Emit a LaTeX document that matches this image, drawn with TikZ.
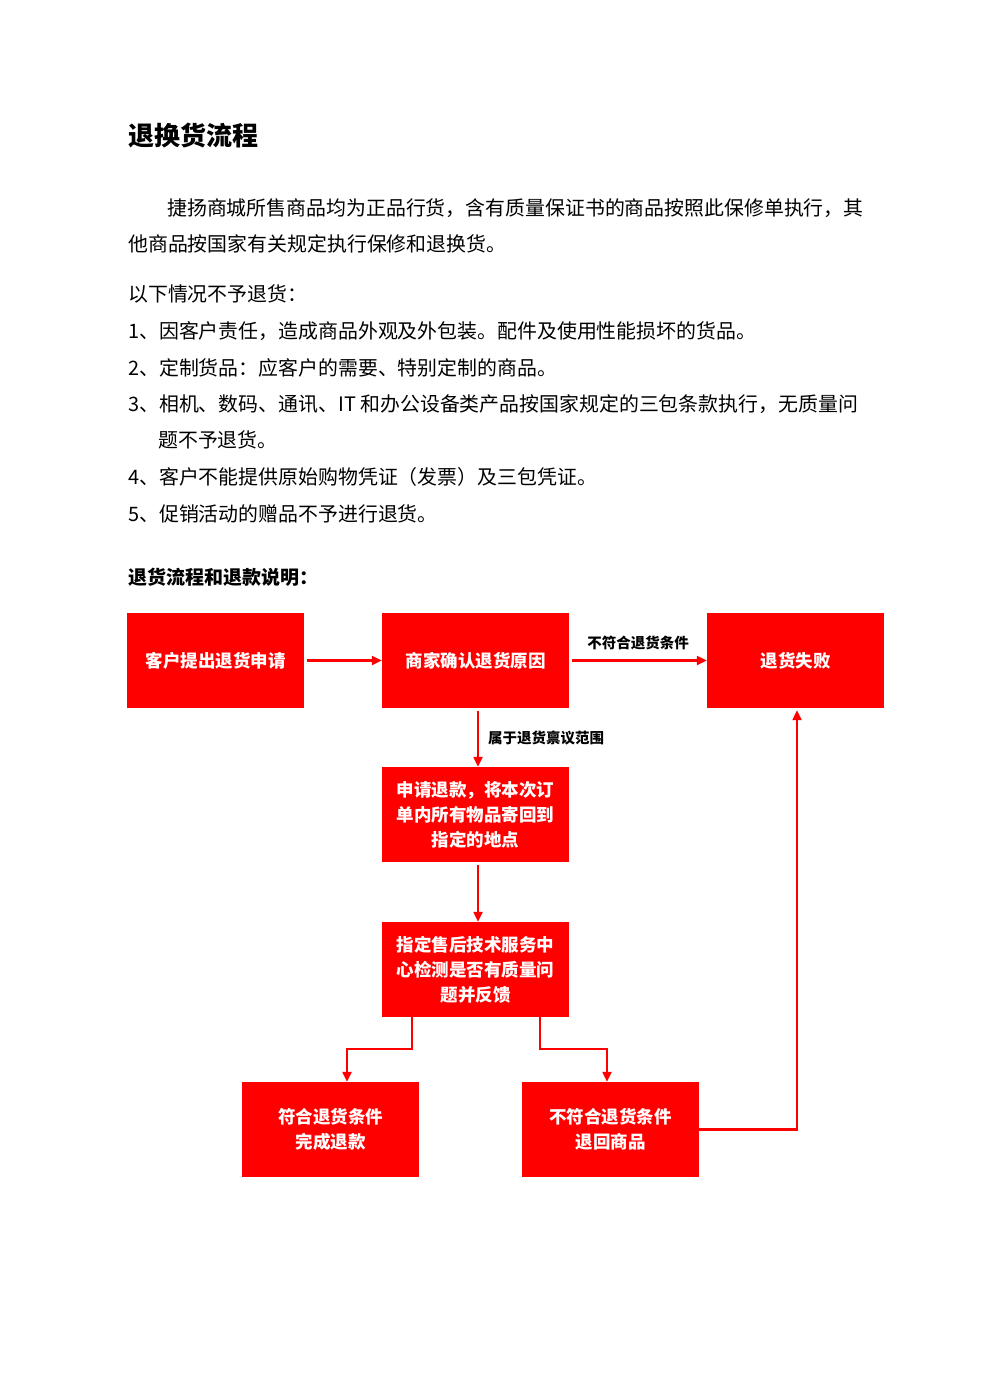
\documentclass[tikz,border=0pt]{standalone}
\usepackage{fontspec}
\newfontfamily\cjk{Noto Sans CJK SC}
\usetikzlibrary{arrows.meta}
\definecolor{boxred}{RGB}{255,0,0}
\tikzset{
  txt/.style={anchor=west, inner sep=0pt, font=\cjk\fontsize{19.9}{24}\selectfont},
  head/.style={anchor=west, inner sep=0pt, font=\cjk\bfseries\fontsize{19}{24}\selectfont},
  stepbox/.style={fill=boxred, text=white, inner sep=0pt, align=center,
    minimum width=177pt, minimum height=95pt,
    font=\cjk\bfseries\fontsize{17.5}{25}\selectfont},
  lbl/.style={text=black, font=\cjk\bfseries\fontsize{14.5}{18}\selectfont, inner sep=0pt},
  arr/.style={boxred, line width=2.2pt, -{Triangle[length=10pt,width=9pt]}},
}
\begin{document}
\begin{tikzpicture}[x=1pt, y=-1pt]
  \useasboundingbox[fill=white] (0,0) rectangle (990,1400);

  % Title and text
  \node[anchor=west, inner sep=0pt, font=\cjk\bfseries\fontsize{26}{30}\selectfont] (title) at (128,136) {退换货流程};
  \node[txt] (p1) at (167,208) {捷扬商城所售商品均为正品行货，含有质量保证书的商品按照此保修单执行，其};
  \node[txt] (p2) at (128,244) {他商品按国家有关规定执行保修和退换货。};
  \node[txt] (r0) at (128,294) {以下情况不予退货：};
  \node[txt] (r1) at (128,331) {1、因客户责任，造成商品外观及外包装。配件及使用性能损坏的货品。};
  \node[txt] (r2) at (128,368) {2、定制货品：应客户的需要、特别定制的商品。};
  \node[txt] (r3) at (128,404) {3、相机、数码、通讯、IT 和办公设备类产品按国家规定的三包条款执行，无质量问};
  \node[txt] (r3b) at (158,440) {题不予退货。};
  \node[txt] (r4) at (128,477) {4、客户不能提供原始购物凭证（发票）及三包凭证。};
  \node[txt] (r5) at (128,514) {5、促销活动的赠品不予进行退货。};
  \node[head] (sub) at (128,577) {退货流程和退款说明：};

  % Boxes
  \node[stepbox] (apply) at (215.5,660.5) {客户提出退货申请};
  \node[stepbox, minimum width=187pt] (check) at (475.5,660.5) {商家确认退货原因};
  \node[stepbox] (fail) at (795.5,660.5) {退货失败};
  \node[stepbox, minimum width=187pt] (send) at (475.5,814.5) {申请退款，将本次订\\单内所有物品寄回到\\指定的地点};
  \node[stepbox, minimum width=187pt] (test) at (475.5,969.5) {指定售后技术服务中\\心检测是否有质量问\\题并反馈};
  \node[stepbox] (ok) at (330.5,1129.5) {符合退货条件\\完成退款};
  \node[stepbox] (back) at (610.5,1129.5) {不符合退货条件\\退回商品};

  % Arrows
  \draw[arr, shorten <=3pt] (apply) -- (check);
  \draw[arr, shorten <=3pt] (check) -- node[lbl, above=9pt] {不符合退货条件} (fail);
  \draw[arr, shorten <=3pt] ([xshift=2.5pt]check.south) -- node[lbl, right=9pt] {属于退货禀议范围} ([xshift=2.5pt]send.north);
  \draw[arr, shorten <=3pt] ([xshift=2.5pt]send.south) -- ([xshift=2.5pt]test.north);
  \draw[arr] ([xshift=-63.5pt]test.south) -- ++(0,32) -| ([xshift=16.5pt]ok.north);
  \draw[arr] ([xshift=64.5pt]test.south) -- ++(0,32) -| ([xshift=-3.5pt]back.north);
  \draw[arr, shorten >=2pt] (back.east) -| ([xshift=1.5pt]fail.south);
\end{tikzpicture}
\end{document}
